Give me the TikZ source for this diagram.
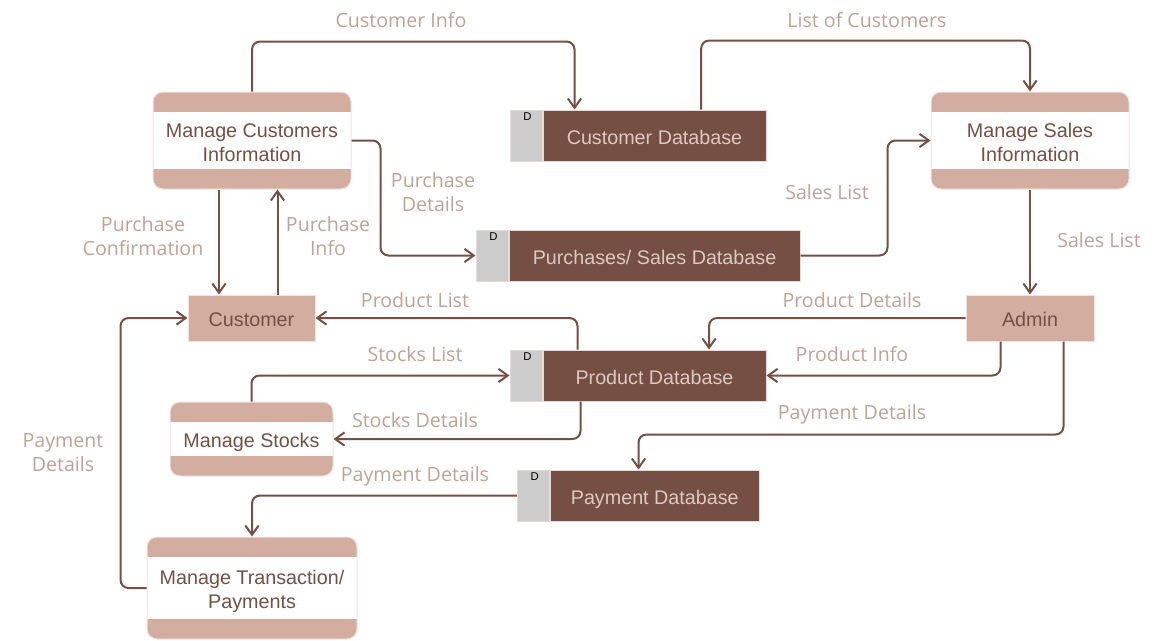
\documentclass[tikz,border=0pt]{standalone}
\usepackage{fontspec}
\setmainfont{Liberation Sans}
\newfontfamily\labelfamily{Open Sans}
\usetikzlibrary{arrows.meta}
\definecolor{dbrown}{HTML}{754F44}
\definecolor{bandcol}{HTML}{D3ADA0}
\definecolor{plinecol}{HTML}{F3E3DE}
\definecolor{lblcol}{HTML}{BFA196}
\definecolor{dbtextcol}{HTML}{DCC9C2}
\definecolor{dgraycol}{HTML}{CCCCCC}
\definecolor{dblinecol}{HTML}{E8DAD5}
\newcommand\nfont{\fontsize{14.8}{18}\selectfont}
\newcommand\lfont{\labelfamily\fontsize{14.7}{18}\selectfont}
\newcommand\dfont{\fontsize{8.5}{10}\selectfont}
\newcommand\lowt[1]{\raisebox{-3pt}[\height][\depth]{\begin{tabular}{@{}c@{}}#1\end{tabular}}}
\begin{document}
\begin{tikzpicture}[x=0.75pt,y=-0.75pt,
  flow/.style={draw=dbrown, line width=1.5pt, rounded corners=6pt,
    -{Straight Barb[length=7pt,width=10pt]}},
  proc/.style={draw=plinecol, line width=0.75pt, fill=white, rounded corners=7.5pt,
    inner sep=0pt, text=dbrown, font=\nfont,
    path picture={
      \fill[bandcol, sharp corners] (path picture bounding box.north west) rectangle ([yshift=-15pt]path picture bounding box.north east);
      \fill[bandcol, sharp corners] (path picture bounding box.south west) rectangle ([yshift=15pt]path picture bounding box.south east);
    }},
  ent/.style={draw=plinecol, line width=0.75pt, fill=bandcol, inner sep=0pt,
    text=dbrown, font=\nfont, minimum height=34.5pt},
  db/.style={fill=dbrown, draw=dblinecol, line width=0.75pt, text=dbtextcol, font=\nfont,
    inner sep=0pt, minimum height=38.25pt},
  dbg/.style={fill=dgraycol, draw=dblinecol, line width=0.75pt, minimum width=24pt,
    minimum height=38.25pt, inner sep=0pt, anchor=east,
    label={[font=\dfont, text=black, inner sep=0pt, anchor=north, yshift=-2.5pt, xshift=1pt]north:D}},
  lbl/.style={text=lblcol, font=\lfont, align=center, inner sep=0pt}
]
\useasboundingbox (0,0) rectangle (1176,640);

% processes
\node[proc, minimum width=148.5pt, minimum height=72.75pt] (mci) at (252,140.5) {\lowt{Manage Customers\\Information}};
\node[proc, minimum width=148.5pt, minimum height=72.75pt] (msi) at (1030,140.5) {\lowt{Manage Sales\\Information}};
\node[proc, minimum width=122.25pt, minimum height=55.5pt] (ms) at (251.5,439) {\lowt{Manage Stocks}};
\node[proc, minimum width=157.5pt, minimum height=76.5pt] (mt) at (252,588) {\lowt{Manage Transaction/\\Payments}};

% entities
\node[ent, minimum width=95.25pt] (cust) at (251.5,318) {\lowt{Customer}};
\node[ent, minimum width=96pt] (admin) at (1030,318) {\lowt{Admin}};

% data stores
\node[db, minimum width=167.25pt] (cdb) at (654.5,135.5) {\lowt{Customer Database}};
\node[dbg] (cdbD) at (cdb.west) {};
\node[db, minimum width=218.25pt] (psd) at (654.5,255.5) {\lowt{Purchases/ Sales Database}};
\node[dbg] (psdD) at (psd.west) {};
\node[db, minimum width=167.25pt] (pd) at (654.5,375.5) {\lowt{Product Database}};
\node[dbg] (pdD) at (pd.west) {};
\node[db, minimum width=156.4pt] (pay) at (654.75,495.5) {\lowt{Payment Database}};
\node[dbg] (payD) at (pay.west) {};

% helper coordinates
\coordinate (pc1) at ([xshift=-24.75pt]mci.south);
\coordinate (pi1) at ([xshift=19.5pt]cust.north);

% flows
\draw[flow] (mci.north) -- ++(0,-50) -| ([xshift=24pt]cdb.north west);
\draw[flow] ([xshift=119pt]cdb.north west) -- ++(0,-69) -| (msi.north);
\draw[flow] (mci.east) -- ++(29,0) |- (psdD.west);
\draw[flow] (psd.east) -- ++(87,0) |- (msi.west);
\draw[flow] (msi.south) -- (admin.north);
\draw[flow] (pc1) -- (pc1 |- cust.north);
\draw[flow] (pi1) -- (pi1 |- mci.south);
\draw[flow] (mt.west) -- ++(-26,0) |- (cust.west);
\draw[flow] (ms.north) |- (pdD.west);
\draw[flow] ([xshift=28.5pt]pd.south west) |- (ms.east);
\draw[flow] ([xshift=26.25pt]pd.north west) |- (cust.east);
\draw[flow] (admin.west) -| ([xshift=124.9pt]pd.north west);
\draw[flow] ([xshift=26.25pt]admin.south west) |- (pd.east);
\draw[flow] ([xshift=73.5pt]admin.south west) -- ++(0,93) -| ([xshift=66.4pt]pay.north west);
\draw[flow] (payD.west) -| (mt.north);

% labels
\node[lbl] (l1) at (401,20) {Customer Info};
\node[lbl] (l2) at (867,20) {List of Customers};
\node[lbl] (l3) at (433,192) {Purchase\\Details};
\node[lbl] (l4) at (827,192) {Sales List};
\node[lbl] (l5) at (1099,240) {Sales List};
\node[lbl] (l6) at (143,236) {Purchase\\Confirmation};
\node[lbl] (l7) at (328,236) {Purchase\\Info};
\node[lbl] (l8) at (415,300) {Product List};
\node[lbl] (l9) at (852,300) {Product Details};
\node[lbl] (l10) at (415,354) {Stocks List};
\node[lbl] (l11) at (852,354) {Product Info};
\node[lbl] (l12) at (415,420) {Stocks Details};
\node[lbl] (l13) at (852,414) {Payment Details};
\node[lbl] (l14) at (63,453) {Payment\\Details};
\node[lbl] (l15) at (415,476) {Payment Details};
\end{tikzpicture}
\end{document}
